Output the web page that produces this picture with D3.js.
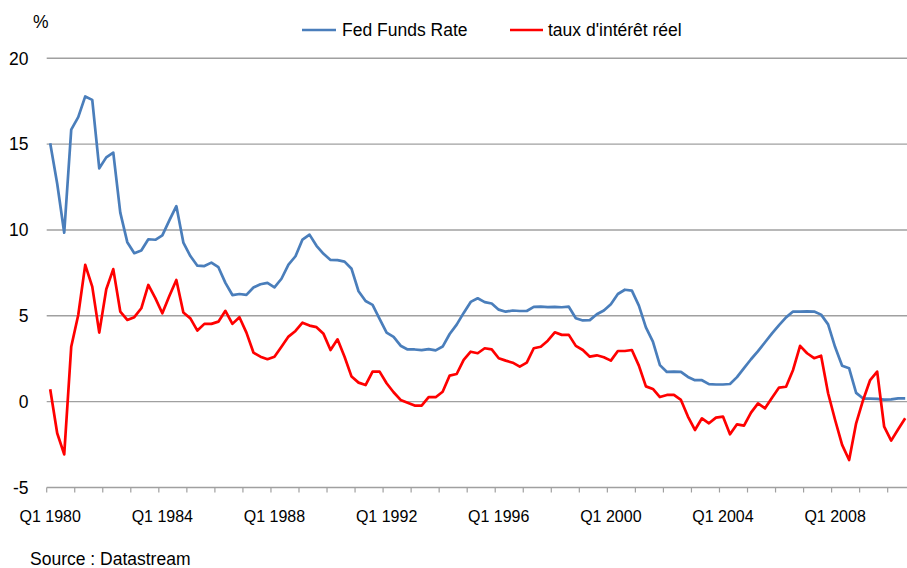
<!DOCTYPE html>
<html>
<head>
<meta charset="utf-8">
<script src="https://cdn.jsdelivr.net/npm/d3@7"></script>
<style>
  html, body { margin: 0; padding: 0; background: #fff; }
  svg { display: block; }
  text { font-family: "Liberation Sans", Arial, sans-serif; fill: #000; }
</style>
</head>
<body>
<svg id="chart" width="907" height="568"></svg>
<script>
// ---- data ----
const startYear = 1980;
const nQuarters = 123; // Q1 1980 .. Q3 2010
const categories = [];
for (let i = 0; i < nQuarters; i++) {
  categories.push("Q" + (i % 4 + 1) + " " + (startYear + Math.floor(i / 4)));
}

const fedFunds = [15.05,12.69,9.84,15.85, 16.57,17.78,17.58,13.59, 14.23,14.51,11.01,9.29,
  8.65,8.80,9.46,9.43, 9.69,10.56,11.39,9.27, 8.48,7.92,7.90,8.10, 7.83,6.92,6.21,6.27,
  6.22,6.65,6.84,6.92, 6.66,7.16,7.98,8.47, 9.44,9.73,9.08,8.61, 8.25,8.24,8.16,7.74,
  6.43,5.86,5.64,4.82, 4.02,3.77,3.26,3.04, 3.04,3.00,3.06,2.99, 3.21,3.94,4.49,5.17,
  5.81,6.02,5.80,5.72, 5.36,5.24,5.31,5.28, 5.28,5.52,5.53,5.51, 5.52,5.50,5.53,4.86,
  4.73,4.75,5.09,5.31, 5.68,6.27,6.52,6.47, 5.59,4.33,3.50,2.13, 1.73,1.75,1.74,1.44,
  1.25,1.25,1.02,1.00, 1.00,1.03,1.43,1.95, 2.47,2.94,3.46,3.98, 4.46,4.91,5.25,5.25,
  5.26,5.25,5.07,4.50, 3.18,2.09,1.94,0.51, 0.18,0.18,0.16,0.12, 0.13,0.19,0.19];

const realRate = [0.72,-1.84,-3.07,3.2, 5.05,7.97,6.7,4.02, 6.55,7.72,5.25,4.76,
  4.92,5.44,6.8,6.03, 5.15,6.15,7.09,5.19, 4.85,4.14,4.53,4.53, 4.66,5.29,4.53,4.92,
  4.02,2.86,2.62,2.47, 2.62,3.2,3.79,4.12, 4.6,4.43,4.34,3.95, 3.01,3.63,2.62,1.46,
  1.11,0.97,1.75,1.75, 1.07,0.55,0.1,-0.06, -0.23,-0.23,0.26,0.26, 0.58,1.52,1.61,2.43,
  2.91,2.82,3.11,3.05, 2.53,2.39,2.27,2.04, 2.27,3.11,3.2,3.55, 4.04,3.89,3.89,3.25,
  3.01,2.62,2.7,2.59, 2.39,2.95,2.95,3.01, 2.1,0.89,0.74,0.27, 0.39,0.39,0.1,-0.87,
  -1.65,-0.97,-1.26,-0.93, -0.87,-1.9,-1.32,-1.4, -0.64,-0.1,-0.39,0.23, 0.82,0.87,1.85,3.25,
  2.82,2.53,2.68,0.49, -1.07,-2.52,-3.4,-1.26, 0.1,1.26,1.75,-1.46, -2.27,-1.61,-0.97];

const yTicks = [-5, 0, 5, 10, 15, 20];
const xTickLabels = ["Q1 1980","Q1 1984","Q1 1988","Q1 1992","Q1 1996","Q1 2000","Q1 2004","Q1 2008"];
const seriesNames = ["Fed Funds Rate", "taux d'intérêt réel"];
const seriesColors = ["#4a7ebb", "#ff0000"];

// ---- layout ----
const svg = d3.select("#chart");
const plotLeft = 46.7, plotRight = 908.7, plotTop = 58.3, plotBottom = 487.5;

const x = d3.scalePoint().domain(categories).range([plotLeft, plotRight]).padding(0.5);
const step = x.step();
const y = d3.scaleLinear().domain([-5, 20]).range([plotBottom, plotTop]);

const gridColor = "#a0a0a0";
const bigFont = "17.5px";

// gridlines
svg.append("g").selectAll("line").data(yTicks).join("line")
  .attr("x1", plotLeft).attr("x2", plotRight)
  .attr("y1", d => y(d)).attr("y2", d => y(d))
  .attr("stroke", gridColor).attr("stroke-width", 1.4);

// y labels
svg.append("g").selectAll("text").data(yTicks).join("text")
  .attr("x", 28.5).attr("y", d => y(d))
  .attr("dy", "0.36em").attr("text-anchor", "end")
  .style("font-size", bigFont)
  .text(d => d);

svg.append("text").attr("x", 33).attr("y", 28).style("font-size", bigFont).text("%");

// x tick marks at category boundaries every 4 quarters
const tickCats = categories.filter((c, i) => i % 4 === 0);
svg.append("g").selectAll("line").data(tickCats).join("line")
  .attr("x1", d => x(d) - step / 2).attr("x2", d => x(d) - step / 2)
  .attr("y1", plotBottom).attr("y2", plotBottom + 5)
  .attr("stroke", gridColor).attr("stroke-width", 1.2);

// x labels
svg.append("g").selectAll("text").data(xTickLabels).join("text")
  .attr("x", d => x(d)).attr("y", 522)
  .attr("text-anchor", "middle")
  .style("font-size", "16px")
  .text(d => d);

// lines
const series = [fedFunds, realRate];
const line = d3.line().x((d, i) => x(categories[i])).y(d => y(d));
series.forEach((s, k) => {
  svg.append("path").datum(s)
    .attr("d", line)
    .attr("fill", "none")
    .attr("stroke", seriesColors[k])
    .attr("stroke-width", 2.7)
    .attr("stroke-linejoin", "round");
});

// legend
const legendPos = [{x1: 302, x2: 336, tx: 342}, {x1: 510, x2: 543, tx: 548}];
seriesNames.forEach((name, k) => {
  const p = legendPos[k];
  svg.append("line").attr("x1", p.x1).attr("x2", p.x2).attr("y1", 30).attr("y2", 30)
    .attr("stroke", seriesColors[k]).attr("stroke-width", 2.7);
  svg.append("text").attr("x", p.tx).attr("y", 30).attr("dy", "0.36em")
    .style("font-size", bigFont).text(name);
});

// source
svg.append("text").attr("x", 30).attr("y", 565).style("font-size", bigFont).text("Source : Datastream");
</script>
</body>
</html>
